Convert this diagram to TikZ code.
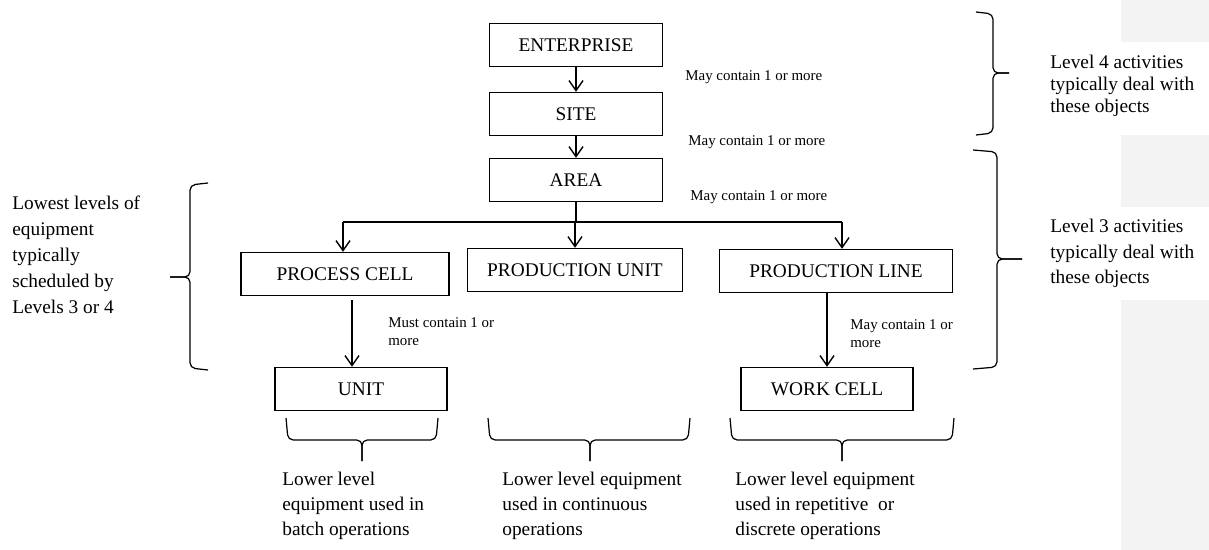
\documentclass[tikz,border=0pt]{standalone}
\usepackage{fontspec}
\setmainfont{Liberation Serif}
\usetikzlibrary{arrows.meta,positioning,calc}
\definecolor{stripgray}{HTML}{F3F3F3}
\tikzset{
  eqblock/.style={draw, line width=0.8pt, minimum height=0.86cm, inner sep=2pt, font=\fontsize{11}{13}\selectfont},
  eqnote/.style={inner sep=0pt, align=left, font=\fontsize{8.5}{10.2}\selectfont},
  eqtext/.style={inner sep=0pt, align=left, anchor=north west, font=\fontsize{11}{14.7}\selectfont},
  eqarrow/.style={-{Straight Barb[length=2mm,width=2.8mm]}, line width=0.8pt},
  eqline/.style={line width=0.8pt},
  eqbrace/.style={line width=0.7pt, rounded corners=3pt}
}

\begin{document}
\begin{tikzpicture}[x=0.02cm, y=-0.02cm]
\useasboundingbox (0,0) rectangle (1209,550);
% grey page margin on the right
\fill[stripgray] (1121,0) rectangle (1209,42);
\fill[stripgray] (1121,135) rectangle (1209,207);
\fill[stripgray] (1121,300) rectangle (1209,550);

% equipment hierarchy
\node[eqblock, minimum width=3.46cm] (ent) at (576,45) {ENTERPRISE};
\node[eqblock, minimum width=3.46cm] (site) at (576,114) {SITE};
\node[eqblock, minimum width=3.46cm] (area) at (576,180) {AREA};
\node[eqblock, minimum width=4.16cm] (pcell) at (345,274) {PROCESS CELL};
\node[eqblock, minimum width=4.3cm] (punit) at (575,270) {PRODUCTION UNIT};
\node[eqblock, minimum width=4.66cm] (pline) at (836,271) {PRODUCTION LINE};
\node[eqblock, minimum width=3.44cm] (unit) at (361,389) {UNIT};
\node[eqblock, minimum width=3.44cm] (wcell) at (827,389) {WORK CELL};

\draw[eqarrow] (ent) -- (site);
\draw[eqarrow] (site) -- (area);
\coordinate (forkl) at (343,222);
\coordinate (forkr) at (842,222);
\draw[eqline] (area) -- (area |- forkl);
\draw[eqline] (forkl) -- (forkr);
\draw[eqarrow] (forkl) -- (forkl |- pcell.north);
\draw[eqarrow] (punit.north |- forkl) -- (punit.north);
\draw[eqarrow] (forkr) -- (forkr |- pline.north);
\coordinate (pcout) at (352,300);
\draw[eqarrow] (pcout) -- (pcout |- unit.north);
\draw[eqarrow] (wcell.north |- pline.south) -- (wcell.north);

% containment notes
\node[eqnote, anchor=west] (note1) at (685,77) {May contain 1 or more};
\node[eqnote, anchor=west] (note2) at (688,142) {May contain 1 or more};
\node[eqnote, anchor=west] (note3) at (690,197) {May contain 1 or more};
\node[eqnote, anchor=north west] (note4) at (388,317) {Must contain 1 or\\more};
\node[eqnote, anchor=north west] (note5) at (850,319) {May contain 1 or\\more};

% braces
\draw[eqbrace] (976,12) -- (993,14) -- (993,73) -- (1009,73);
\draw[eqbrace] (976,135) -- (993,133) -- (993,73) -- (1009,73);
\draw[eqbrace] (973,150) -- (997,152) -- (997,259) -- (1022,259);
\draw[eqbrace] (973,369) -- (997,367) -- (997,259) -- (1022,259);
\draw[eqbrace] (208,183) -- (190,185) -- (190,277) -- (170,277);
\draw[eqbrace] (208,370) -- (190,368) -- (190,277) -- (170,277);
\draw[eqbrace] (286,418) -- (288,440) -- (362,440) -- (362,461);
\draw[eqbrace] (438,418) -- (436,440) -- (362,440) -- (362,461);
\draw[eqbrace] (488,418) -- (490,440) -- (590,440) -- (590,461);
\draw[eqbrace] (690,418) -- (688,440) -- (590,440) -- (590,461);
\draw[eqbrace] (730,418) -- (732,440) -- (842,440) -- (842,461);
\draw[eqbrace] (954,418) -- (952,440) -- (842,440) -- (842,461);

% side and bottom texts
\node[eqtext] (lowest) at (12,196) {Lowest levels of\\equipment\\typically\\scheduled by\\Levels 3 or 4};
\node[eqtext, font=\fontsize{11}{12.5}\selectfont] (lvlfour) at (1050,55) {Level 4 activities\\typically deal with\\these objects};
\node[eqtext, font=\fontsize{11}{14.5}\selectfont] (lvlthree) at (1050,219) {Level 3 activities\\typically deal with\\these objects};
\node[eqtext, font=\fontsize{11}{14.2}\selectfont] (batch) at (282,472) {Lower level\\equipment used in\\batch operations};
\node[eqtext, font=\fontsize{11}{14.2}\selectfont] (contin) at (502,472) {Lower level equipment\\used in continuous\\operations};
\node[eqtext, font=\fontsize{11}{14.2}\selectfont] (discr) at (735,472) {Lower level equipment\\used in repetitive~ or\\discrete operations};
\end{tikzpicture}
\end{document}
